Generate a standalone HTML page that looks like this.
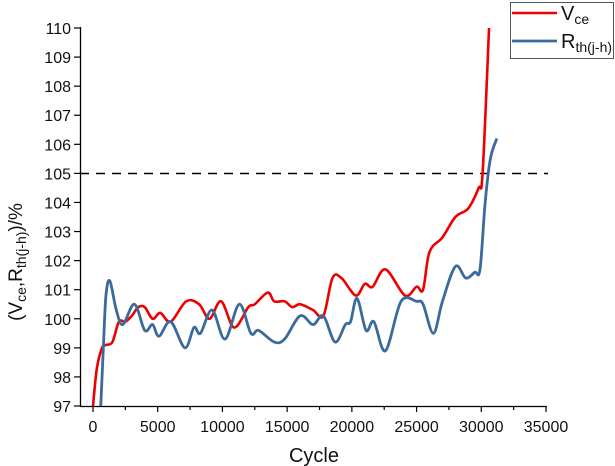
<!DOCTYPE html>
<html><head><meta charset="utf-8"><style>
html,body{margin:0;padding:0;background:#fff;}
svg{display:block;font-family:"Liberation Sans",Arial,sans-serif;}
</style></head><body>
<svg id="s" width="615" height="466" viewBox="0 0 615 466" xmlns="http://www.w3.org/2000/svg">
<rect width="615" height="466" fill="#fff"/>
<g id="axes" stroke="#000" stroke-width="1.3" fill="none">
<line x1="80.5" y1="27" x2="80.5" y2="406.5"/>
<line x1="80" y1="406.5" x2="547" y2="406.5"/>
</g>
<g id="ticks" stroke="#000" stroke-width="1.2"></g>
<g id="labels" font-size="16" fill="#111"></g>
<line x1="80" y1="173.5" x2="548" y2="173.5" stroke="#000" stroke-width="1.6" stroke-dasharray="9,7"/>
<path id="red" fill="none" stroke="#ee0000" stroke-width="2.6" stroke-linejoin="round"/>
<path id="blue" fill="none" stroke="#3b6a9c" stroke-width="2.8" stroke-linejoin="round"/>
<rect x="510.5" y="2.5" width="103" height="56" fill="#fff" stroke="#555" stroke-width="1"/>
<line x1="512" y1="13" x2="557" y2="13" stroke="#ee0000" stroke-width="2.6"/>
<line x1="512" y1="41" x2="557" y2="41" stroke="#3b6a9c" stroke-width="2.8"/>
<text x="561" y="20" font-size="20" fill="#111">V<tspan font-size="14" dy="4">ce</tspan></text>
<text x="561" y="48" font-size="20" fill="#111">R<tspan font-size="14" dy="4">th(j-h)</tspan></text>
<text x="314" y="462" font-size="20" fill="#111" text-anchor="middle">Cycle</text>
<text transform="translate(22,262) rotate(-90)" font-size="19" fill="#111" text-anchor="middle">(V<tspan font-size="14" dy="4">ce</tspan><tspan dy="-4">,R</tspan><tspan font-size="14" dy="4">th(j-h)</tspan><tspan dy="-4">)/%</tspan></text>
</svg>
<script>
var X=function(c){return 93+c*(453/35000);};
var Y=function(v){return 28+(110-v)*(378/13);};
var ns="http://www.w3.org/2000/svg";
var tg=document.getElementById('ticks'),lg=document.getElementById('labels');
function el(p,n,a){var e=document.createElementNS(ns,n);for(var k in a)e.setAttribute(k,a[k]);p.appendChild(e);return e;}
for(var v=97;v<=110;v++){var y=Y(v);el(tg,'line',{x1:74,y1:y,x2:80,y2:y});var t=el(lg,'text',{x:71,y:y+6,'text-anchor':'end'});t.textContent=v;}
for(var c=0;c<=35000;c+=2500){var x=X(c);el(tg,'line',{x1:x,y1:406,x2:x,y2:(c%5000==0?412:410)});if(c%5000==0){var t=el(lg,'text',{x:x,y:432,'text-anchor':'middle'});t.textContent=c;}}
function path(pts){var p=pts.map(function(d){return [X(d[0]),Y(d[1])];});var s='M'+p[0][0]+','+p[0][1];
for(var i=0;i<p.length-1;i++){var p0=p[i-1]||p[i],p1=p[i],p2=p[i+1],p3=p[i+2]||p2;
s+=' C'+(p1[0]+(p2[0]-p0[0])/6)+','+(p1[1]+(p2[1]-p0[1])/6)+' '+(p2[0]-(p3[0]-p1[0])/6)+','+(p2[1]-(p3[1]-p1[1])/6)+' '+p2[0]+','+p2[1];}return s;}
var red=[[0,97],[300,98.3],[700,99],[1000,99.1],[1500,99.2],[2000,99.9],[2500,99.9],[3000,100.1],[3500,100.4],[4000,100.4],[4600,100],[5200,100.2],[6000,99.9],[7200,100.6],[8200,100.5],[9000,100],[9900,100.6],[10900,99.7],[12000,100.4],[12500,100.5],[13500,100.9],[14000,100.6],[14800,100.6],[15400,100.4],[16000,100.5],[17000,100.3],[17800,100.1],[18500,101.4],[19200,101.4],[20300,100.8],[21000,101.2],[21600,101.1],[22600,101.7],[24100,100.8],[25000,101.1],[25500,101],[26000,102.3],[27000,102.8],[28000,103.5],[29000,103.8],[29800,104.5],[30100,105],[30600,110]];
var blue=[[600,97],[800,99],[1000,100.8],[1300,101.3],[1800,100.3],[2300,99.8],[3200,100.5],[4000,99.6],[4600,99.8],[5100,99.4],[6000,99.9],[7100,99],[7800,99.7],[8300,99.5],[9200,100.3],[10200,99.3],[11300,100.5],[12200,99.5],[12800,99.6],[14000,99.2],[14800,99.3],[16000,100.1],[17000,99.8],[17800,100.1],[18700,99.2],[19500,99.8],[19900,99.9],[20400,100.7],[21100,99.6],[21700,99.9],[22600,98.9],[23800,100.6],[25000,100.6],[25500,100.5],[26300,99.5],[27000,100.6],[28000,101.8],[28800,101.4],[29500,101.6],[29900,101.7],[30300,104],[30700,105.5],[31200,106.2]];
document.getElementById('red').setAttribute('d',path(red));
document.getElementById('blue').setAttribute('d',path(blue));
</script>
</body></html>
